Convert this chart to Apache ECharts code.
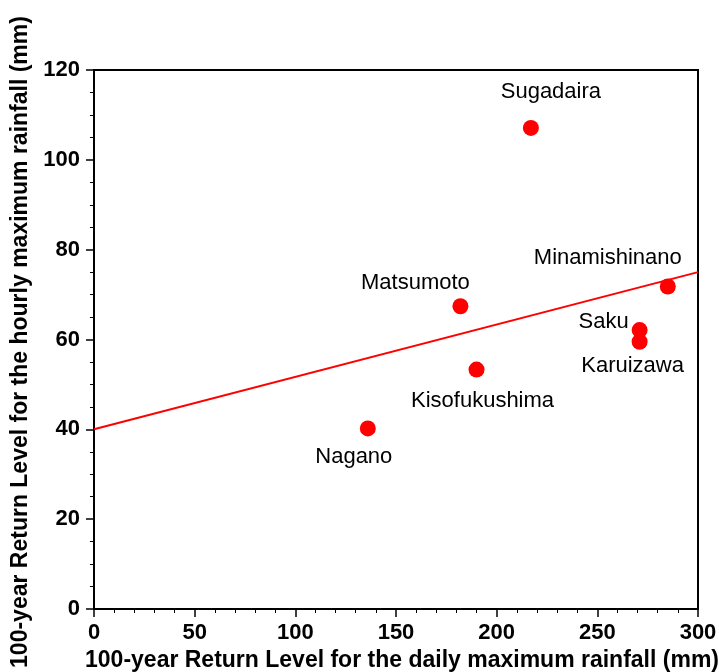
<!DOCTYPE html>
<html>
<head>
<meta charset="utf-8">
<style>
  html, body { margin: 0; padding: 0; background: #fff; }
  #chart { width: 719px; height: 672px; }
</style>
<script src="https://cdn.jsdelivr.net/npm/echarts@6/dist/echarts.min.js"></script>
</head>
<body>
<div id="chart"></div>
<script>
// Station names and their 100-year return levels
const stations = ['Nagano', 'Matsumoto', 'Kisofukushima', 'Sugadaira', 'Minamishinano', 'Saku', 'Karuizawa'];
const dailyMax = [136, 182, 190, 217, 285, 271, 271];     // mm (x)
const hourlyMax = [40.2, 67.4, 53.3, 107.1, 71.8, 62.1, 59.5]; // mm (y)

// Fitted regression line end points
const fitX = [0, 300];
const fitY = [40, 75];

const xTicks = [0, 50, 100, 150, 200, 250, 300];
const yTicks = [0, 20, 40, 60, 80, 100, 120];

// Where each station name sits relative to its dot (px)
const labelOffsets = {
  Nagano: [-14, 29],
  Matsumoto: [-45, -23],
  Kisofukushima: [6, 31],
  Sugadaira: [20, -36],
  Minamishinano: [-60, -29],
  Saku: [-36, -8],
  Karuizawa: [-7, 24]
};

const font = '"Liberation Sans", Arial, Helvetica, sans-serif';

const chart = echarts.init(document.getElementById('chart'));

const points = stations.map((name, i) => ({
  name: name,
  value: [dailyMax[i], hourlyMax[i]],
  label: { offset: labelOffsets[name] }
}));

chart.setOption({
  animation: false,
  backgroundColor: '#fff',
  grid: {
    left: 94, right: 21, top: 70, bottom: 63,
    containLabel: false,
    outerBoundsMode: 'none',
    show: true, borderColor: '#000', borderWidth: 2, backgroundColor: 'transparent'
  },
  xAxis: {
    type: 'value',
    min: xTicks[0], max: xTicks[xTicks.length - 1], interval: 50,
    name: '100-year Return Level for the daily maximum rainfall (mm)',
    nameLocation: 'middle', nameGap: 40,
    nameTextStyle: { fontFamily: font, fontWeight: 'bold', fontSize: 23, color: '#000', padding: [0, 0, 0, 12] },
    axisLine: { show: true, lineStyle: { color: '#000', width: 2 } },
    axisTick: { show: true, inside: false, length: 8, lineStyle: { color: '#000', width: 1.5 } },
    minorTick: { show: true, splitNumber: 5, length: 4, lineStyle: { color: '#000', width: 1 } },
    splitLine: { show: false },
    axisLabel: { fontFamily: font, fontWeight: 'bold', fontSize: 22, color: '#000', margin: 13 }
  },
  yAxis: {
    type: 'value',
    min: yTicks[0], max: yTicks[yTicks.length - 1], interval: 20,
    name: '100-year Return Level for the hourly maximum rainfall (mm)',
    nameLocation: 'middle', nameGap: 56,
    nameTextStyle: { fontFamily: font, fontWeight: 'bold', fontSize: 23, color: '#000', padding: [0, 5, 0, 0] },
    axisLine: { show: true, lineStyle: { color: '#000', width: 2 } },
    axisTick: { show: true, inside: false, length: 8, lineStyle: { color: '#000', width: 1.5 } },
    minorTick: { show: true, splitNumber: 4, length: 4, lineStyle: { color: '#000', width: 1 } },
    splitLine: { show: false },
    axisLabel: { fontFamily: font, fontWeight: 'bold', fontSize: 22, color: '#000', margin: 14 }
  },
  series: [
    {
      type: 'line',
      data: fitX.map((x, i) => [x, fitY[i]]),
      symbol: 'none',
      lineStyle: { color: '#ff0000', width: 2 },
      z: 2
    },
    {
      type: 'scatter',
      data: points,
      symbol: 'circle',
      symbolSize: 16,
      itemStyle: { color: '#ff0000', opacity: 1 },
      label: {
        show: true,
        position: 'inside',
        formatter: '{b}',
        fontFamily: font,
        fontSize: 22,
        color: '#000',
        align: 'center',
        verticalAlign: 'middle'
      },
      z: 3
    }
  ]
});
</script>
</body>
</html>
